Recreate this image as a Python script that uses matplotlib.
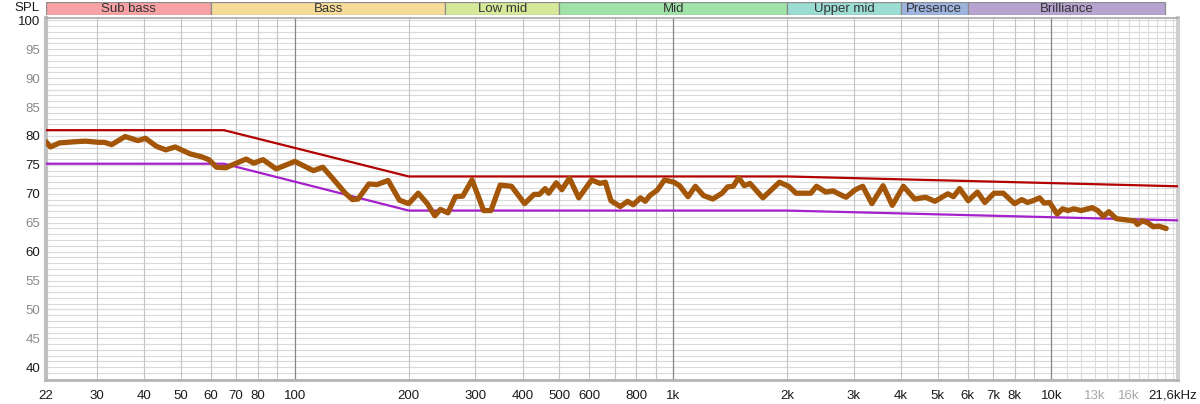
import matplotlib
matplotlib.use("Agg")
import matplotlib.pyplot as plt
import matplotlib.transforms as mtransforms
import numpy as np

plt.rcParams['font.family'] = ['Liberation Sans', 'DejaVu Sans']

# ---- data ----
band_names = ["Sub bass", "Bass", "Low mid", "Mid", "Upper mid", "Presence", "Brilliance"]
band_edges = [22, 60, 250, 500, 2000, 4000, 6000, 20000]
band_colors = ["#f8a2a6", "#f6dc98", "#d6e99b", "#a1e2a9", "#9bdcd3", "#9db4de", "#b7a3cf"]

upper_f = [22, 65, 200, 2000, 21600]
upper_db = [81.0, 81.0, 73.0, 73.0, 71.3]
lower_f = [22, 65, 200, 2000, 21600]
lower_db = [75.2, 75.2, 67.1, 67.1, 65.4]

resp_f = [22, 22.6, 23.9, 26.2, 28.0, 30.3, 31.4, 32.8, 35.6, 38.5, 40.3, 43.1, 45.6, 48.3,
          52.9, 56.7, 59.3, 62.1, 65.7, 69.5, 74.4, 77.9, 82.4, 89.3, 100, 112, 118.6,
          128.5, 136, 142, 147, 157, 165, 176.5, 189, 200, 212, 224, 234.5, 242.6, 254,
          265.7, 278, 294, 305, 315.5, 330, 349, 374, 405, 429, 443, 459, 469, 491, 508,
          532, 563, 609, 640, 662, 685, 725, 758, 784, 820, 844, 868, 907, 949, 1005,
          1040, 1095, 1145, 1203, 1273, 1347, 1393, 1442, 1490, 1542, 1596, 1727, 1910,
          2020, 2113, 2312, 2393, 2531, 2648, 2737, 2865, 3030, 3170, 3352, 3588, 3796,
          4061, 4349, 4650, 4920, 5321, 5508, 5720, 6024, 6373, 6667, 7050, 7460, 7986,
          8350, 8636, 8934, 9303, 9557, 9887, 10350, 10700, 11070, 11450, 11980, 12820,
          13250, 13710, 14180, 14840, 15700, 16600, 16870, 17380, 17960, 18580, 19220, 20100]
resp_db = [79.0, 78.1, 78.8, 79.0, 79.1, 78.9, 78.9, 78.5, 79.9, 79.2, 79.6, 78.2, 77.6, 78.1,
           76.9, 76.4, 75.9, 74.6, 74.5, 75.2, 76.0, 75.3, 75.9, 74.3, 75.6, 74.0, 74.6,
           72.0, 70.1, 69.0, 69.1, 71.7, 71.6, 72.3, 68.9, 68.3, 70.1, 68.3, 66.2, 67.3, 66.7,
           69.5, 69.6, 72.4, 69.7, 67.1, 67.1, 71.5, 71.3, 68.3, 69.9, 69.9, 70.9, 70.1, 71.9, 70.7,
           72.7, 69.3, 72.4, 71.8, 72.0, 68.8, 67.8, 68.7, 68.1, 69.3, 68.7, 69.7, 70.6, 72.4, 72.0,
           71.4, 69.5, 71.3, 69.7, 69.1, 70.1, 71.2, 71.3, 72.8, 71.4, 71.8, 69.3, 72.0,
           71.3, 70.1, 70.1, 71.3, 70.3, 70.5, 70.0, 69.4, 70.7, 71.3, 68.3, 71.4, 68.0,
           71.3, 69.1, 69.4, 68.7, 70.0, 69.5, 70.9, 68.8, 70.3, 68.5, 70.1, 70.1, 68.3,
           69.0, 68.5, 68.8, 69.3, 68.4, 68.5, 66.5, 67.4, 67.1, 67.4, 67.1, 67.6,
           67.1, 66.1, 66.9, 65.7, 65.5, 65.3, 64.7, 65.3, 65.0, 64.3, 64.4, 64.0]

x_tick_vals = [22, 30, 40, 50, 60, 70, 80, 100, 200, 300, 400, 500, 600, 800, 1000, 2000,
               3000, 4000, 5000, 6000, 7000, 8000, 10000, 13000, 16000, 21600]
x_tick_labels = ["22", "30", "40", "50", "60", "70", "80", "100", "200", "300", "400", "500",
                 "600", "800", "1k", "2k", "3k", "4k", "5k", "6k", "7k", "8k", "10k", "13k",
                 "16k", "21,6kHz"]
x_tick_gray = ["13k", "16k"]
y_tick_vals = [40, 45, 50, 55, 60, 65, 70, 75, 80, 85, 90, 95, 100]
y_tick_gray = [45, 50, 55, 65, 85, 90, 95]

XMIN, XMAX = 22, 21600
YMIN, YMAX = 37.8, 100.4

W, H = 1200, 404
fig = plt.figure(figsize=(W / 100, H / 100), dpi=100)
fig.patch.set_facecolor("white")

def frac(x0, y0, x1, y1):
    return [x0 / W, 1 - y1 / H, (x1 - x0) / W, (y1 - y0) / H]

ax = fig.add_axes(frac(46, 18, 1178, 380))
ax.set_xscale("log")
ax.set_xlim(XMIN, XMAX)
ax.set_ylim(YMIN, YMAX)

# grid
for v in range(38, 101):
    ax.axhline(v, color="#dadada", lw=0.8, zorder=0)
for dec in [10, 100, 1000]:
    for m in range(2, 10):
        f = dec * m
        if f > XMIN:
            ax.axvline(f, color="#c4c4c4", lw=0.8, zorder=0)
for m in range(11, 22):
    ax.axvline(m * 1000, color="#dcdcdc", lw=0.8, zorder=0)
for f in [100, 1000, 10000]:
    ax.axvline(f, color="#858585", lw=0.9, zorder=0)

ax.plot(upper_f, upper_db, color="#b30000", lw=1.6, zorder=3)
ax.plot(lower_f, lower_db, color="#a51fcc", lw=1.6, zorder=3)
ax.plot(resp_f, resp_db, color="#a35608", lw=3.8, zorder=4,
        solid_joinstyle="round", solid_capstyle="round")

ax.set_xticks(x_tick_vals)
ax.set_xticklabels(x_tick_labels)
ax.xaxis.set_minor_locator(matplotlib.ticker.NullLocator())
ax.set_yticks(y_tick_vals)
ax.tick_params(axis="both", length=0, labelsize=9.5)
ax.tick_params(axis="x", pad=7)
ax.tick_params(axis="y", pad=4)
xlabels = ax.get_xticklabels()
for lbl in xlabels:
    lbl.set_color("#a8a8a8" if lbl.get_text() in x_tick_gray else "#1a1a1a")
shift = mtransforms.ScaledTranslation(-5 / 100, 0, fig.dpi_scale_trans)
xlabels[-1].set_transform(xlabels[-1].get_transform() + shift)
for lbl, v in zip(ax.get_yticklabels(), y_tick_vals):
    lbl.set_color("#8a8a8a" if v in y_tick_gray else "#1a1a1a")

for side in ["top", "right", "bottom", "left"]:
    ax.spines[side].set_color("#a8a8a8")
ax.spines["left"].set_linewidth(3)
ax.spines["left"].set_color("#c0c0c0")
ax.spines["right"].set_linewidth(3)
ax.spines["right"].set_color("#cfcfcf")
ax.spines["bottom"].set_linewidth(2)
ax.spines["bottom"].set_color("#b5b5b5")
ax.spines["top"].set_linewidth(1.2)

# header bands
hx = fig.add_axes(frac(46, 2, 1178, 15))
hx.set_xscale("log")
hx.set_xlim(XMIN, XMAX)
hx.set_ylim(0, 1)
hx.axis("off")
for i, name in enumerate(band_names):
    lo, hi = band_edges[i], band_edges[i + 1]
    hx.axvspan(lo, hi, ymin=0, ymax=1, facecolor=band_colors[i], edgecolor="#8c8c8c", lw=0.9)
    hx.text(np.sqrt(lo * hi), 0.45, name, ha="center", va="center", fontsize=9.5, color="#333333")

fig.text(40 / W, 1 - 8 / H, "SPL", ha="right", va="center", fontsize=9.5, color="#1a1a1a")

fig.savefig("out.png", dpi=100, facecolor="white")
